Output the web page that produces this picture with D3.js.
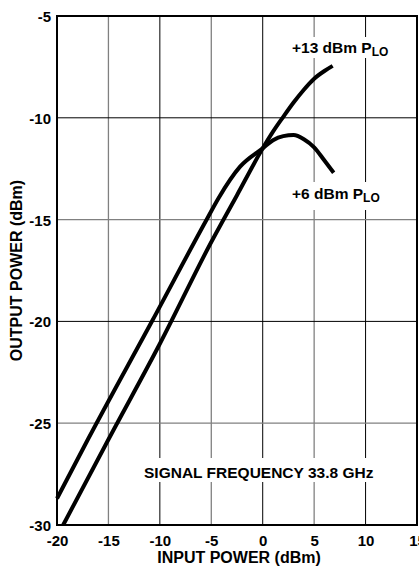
<!DOCTYPE html>
<html>
<head>
<meta charset="utf-8">
<script src="https://cdn.jsdelivr.net/npm/d3@7/dist/d3.min.js"></script>
<style>
html,body{margin:0;padding:0;background:#fff;}
svg{display:block;}
text{font-family:"Liberation Sans",Arial,Helvetica,sans-serif;font-weight:bold;fill:#000;}
</style>
</head>
<body>
<script>
// ---- data ----
const xTicks = [-20, -15, -10, -5, 0, 5, 10, 15];
const yTicks = [-30, -25, -20, -15, -10, -5];
const lo13X = [-19.4, -15, -10, -5, -2.5, 0, 1, 2, 3, 4, 5, 6, 6.8];
const lo13Y = [-30, -25.8, -21.1, -16.1, -13.8, -11.5, -10.68, -9.95, -9.25, -8.62, -8.08, -7.7, -7.45];
const lo6X = [-20, -17, -10.7, -5.3, -4.3, -2.2, 0, 1, 2, 3, 4, 5, 6, 6.9];
const lo6Y = [-28.7, -25.8, -19.93, -14.86, -13.95, -12.4, -11.5, -11.1, -10.9, -10.85, -11.05, -11.45, -12.1, -12.7];
const xTitle = "INPUT POWER (dBm)";
const yTitle = "OUTPUT POWER (dBm)";
const note = "SIGNAL FREQUENCY 33.8 GHz";

const W = 419, H = 567;
const L = 57, R = 417, T = 16, B = 525;
const x = d3.scaleLinear().domain([-20, 15]).range([L, R]);
const y = d3.scaleLinear().domain([-30, -5]).range([B, T]);

const svg = d3.select("body").append("svg").attr("width", W).attr("height", H);

// grid
const isBlack = v => (Math.abs(v) % 10) === 0;
svg.append("g").selectAll("line").data(xTicks.filter(v => v > -20 && v < 15)).join("line")
  .attr("x1", d => x(d)).attr("x2", d => x(d)).attr("y1", T).attr("y2", B)
  .attr("stroke", d => isBlack(d) ? "#000" : "#808080").attr("stroke-width", d => isBlack(d) ? 1 : 1.3);
svg.append("g").selectAll("line").data(yTicks.filter(v => v > -30 && v < -5)).join("line")
  .attr("y1", d => y(d)).attr("y2", d => y(d)).attr("x1", L).attr("x2", R)
  .attr("stroke", d => isBlack(d) ? "#000" : "#808080").attr("stroke-width", d => isBlack(d) ? 1 : 1.3);

// label backgrounds (break the grid)
svg.append("rect").attr("x", 287).attr("y", 37).attr("width", 106).attr("height", 21).attr("fill", "#fff");
svg.append("rect").attr("x", 287).attr("y", 182).attr("width", 100).attr("height", 28).attr("fill", "#fff");
svg.append("rect").attr("x", 140).attr("y", 458).attr("width", 244).attr("height", 24).attr("fill", "#fff");

// curves
const line = d3.line().x(d => x(d[0])).y(d => y(d[1])).curve(d3.curveMonotoneX);
const s13 = lo13X.map((v, i) => [v, lo13Y[i]]);
const s6 = lo6X.map((v, i) => [v, lo6Y[i]]);
[s13, s6].forEach(s => {
  svg.append("path").attr("d", line(s)).attr("fill", "none").attr("stroke", "#000")
    .attr("stroke-width", 4).attr("stroke-linecap", "butt").attr("stroke-linejoin", "round");
});

// frame
svg.append("rect").attr("x", L).attr("y", T).attr("width", R - L).attr("height", B - T)
  .attr("fill", "none").attr("stroke", "#000").attr("stroke-width", 2);

// axes
const fmt = d => String(d);
const xAxis = svg.append("g").attr("transform", `translate(0,${B})`)
  .call(d3.axisBottom(x).tickValues(xTicks).tickSize(0).tickPadding(0).tickFormat(fmt));
xAxis.select(".domain").remove();
xAxis.selectAll("text").attr("y", 21).attr("dy", 0).style("font-size", "15px").style("font-family", null);
xAxis.attr("font-family", null).attr("font-size", null);

const yAxis = svg.append("g").attr("transform", `translate(${L},0)`)
  .call(d3.axisLeft(y).tickValues(yTicks).tickSize(0).tickPadding(0).tickFormat(fmt));
yAxis.select(".domain").remove();
yAxis.selectAll("text").attr("x", -6).attr("dy", "0.36em").style("font-size", "15px").style("font-family", null);
yAxis.attr("font-family", null).attr("font-size", null);

// titles
svg.append("text").attr("x", (L + R) / 2 + 2).attr("y", 563).attr("text-anchor", "middle")
  .style("font-size", "16px").text(xTitle);
svg.append("text").attr("transform", `translate(21.5,${(T + B) / 2}) rotate(-90)`).attr("text-anchor", "middle")
  .style("font-size", "16px").text(yTitle);

// annotations
function plo(xp, yp, prefix) {
  const t = svg.append("text").attr("x", xp).attr("y", yp).style("font-size", "15.5px");
  t.append("tspan").text(prefix + " dBm P");
  t.append("tspan").attr("dy", 3).style("font-size", "12px").text("LO");
}
plo(292, 53, "+13");
plo(292, 199, "+6");
svg.append("text").attr("x", 144).attr("y", 477.5).style("font-size", "15.5px").text(note);
</script>
</body>
</html>
